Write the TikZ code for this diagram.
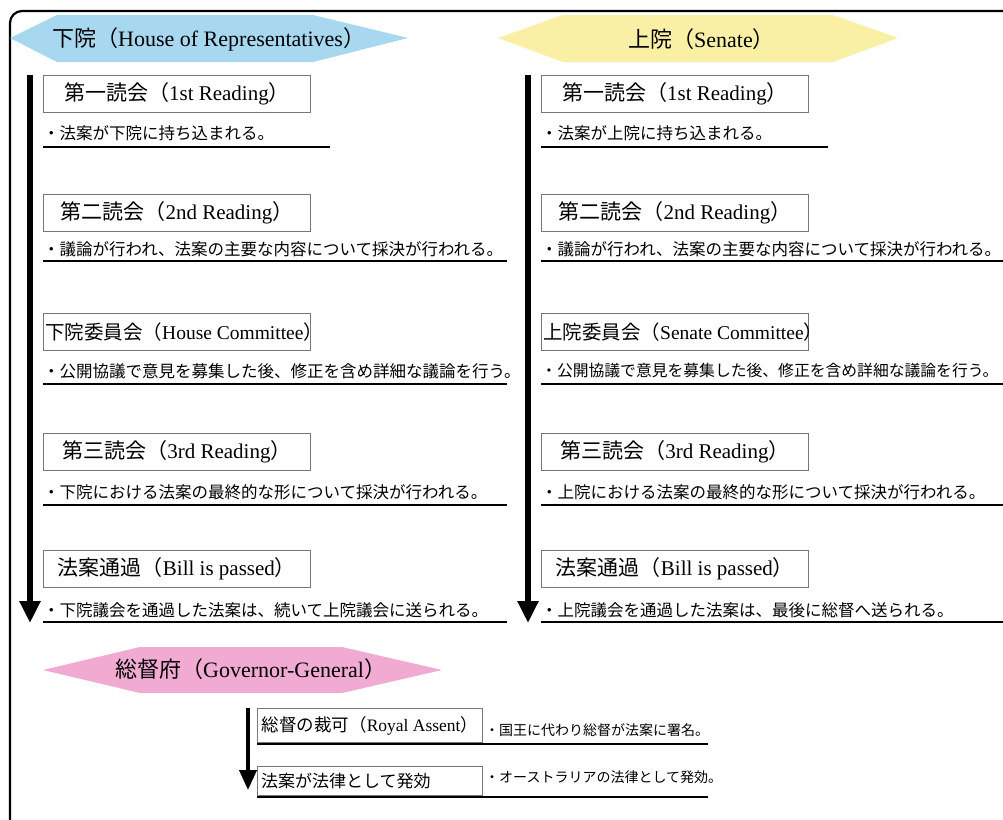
\documentclass[tikz,border=0pt]{standalone}
\usepackage{fontspec}
\setmainfont{Liberation Serif}
\newfontfamily\jpf{Noto Sans CJK JP}
\newcommand\J[1]{{\jpf #1}}
\newcommand\headf{\fontsize{22}{25}\selectfont}
\newcommand\boxf{\fontsize{21}{24}\selectfont}
\newcommand\cboxf{\fontsize{19.5}{22}\selectfont}
\newcommand\subf{\fontsize{16.5}{19}\selectfont\jpf}
\newcommand\gboxf{\fontsize{17.5}{21}\selectfont}
\newcommand\gsubf{\fontsize{14}{17}\selectfont\jpf}
\usetikzlibrary{arrows.meta}
\definecolor{hblue}{RGB}{168,215,240}
\definecolor{hyellow}{RGB}{250,240,165}
\definecolor{hpink}{RGB}{241,171,211}
\definecolor{boxgray}{RGB}{120,120,120}
\begin{document}
\begin{tikzpicture}[x=1pt,y=-1pt,
  stepbox/.style={draw=boxgray, line width=0.9pt, minimum width=267pt, minimum height=37pt, inner sep=0pt, anchor=north west, font=\boxf},
  gbox/.style={draw=boxgray, line width=0.9pt, minimum width=225pt, inner sep=0pt, anchor=north west, font=\gboxf},
  sub/.style={anchor=west, inner sep=0pt, font=\subf},
  gsub/.style={anchor=west, inner sep=0pt, font=\gsubf},
  hdr/.style={anchor=west, inner sep=0pt, font=\headf},
  ctext/.style={anchor=west, inner sep=0pt, font=\cboxf},
  uline/.style={line width=1.6pt, black},
  flow/.style={line width=6pt, -{Triangle[width=20pt,length=22pt]}},
  gflow/.style={line width=4pt, -{Triangle[width=17pt,length=20pt]}}]
\useasboundingbox (0,0) rectangle (1003,819);
\clip (0,0) rectangle (1003,819);
\fill[white] (0,0) rectangle (1003,819);
% frame
\draw[line width=2.2pt, rounded corners=12pt] (10,840) -- (10,11) -- (1020,11);
% headers
\fill[hblue] (10,38) -- (57,15) -- (313,15) -- (408,38) -- (313,62) -- (57,62) -- cycle;
\node[hdr] (hH) at (52,39) {\J{下院（}House of Representatives\J{）}};
\fill[hyellow] (498,38) -- (563,15) -- (833,15) -- (898,38) -- (833,62) -- (563,62) -- cycle;
\node[hdr] (hS) at (628,39) {\J{上院（}Senate\J{）}};
\fill[hpink] (43,670) -- (140,647) -- (342,647) -- (442,670) -- (342,693) -- (140,693) -- cycle;
\node[hdr] (hG) at (115,669) {\J{総督府（}Governor-General\J{）}};
% left column
\coordinate (la0) at (30,75);
\coordinate (la1) at (30,623);
\draw[flow] (la0) -- (la1);
\node[stepbox] (lb1) at (43,75) {\J{第一読会（}1st Reading\J{）}};
\node[sub] (ls1) at (43,133) {・法案が下院に持ち込まれる。};
\draw[uline] (43,147) -- (330,147);
\node[stepbox] (lb2) at (43,194) {\J{第二読会（}2nd Reading\J{）}};
\node[sub] (ls2) at (43,249) {・議論が行われ、法案の主要な内容について採決が行われる。};
\draw[uline] (43,261) -- (507,261);
\node[stepbox] (lb3) at (43,313) {};
\node[ctext] (lt3) at (45,332) {\J{下院委員会（}House Committee\J{）}};
\node[sub] (ls3) at (43,371) {・公開協議で意見を募集した後、修正を含め詳細な議論を行う。};
\draw[uline] (43,384) -- (507,384);
\node[stepbox] (lb4) at (43,433) {\J{第三読会（}3rd Reading\J{）}};
\node[sub] (ls4) at (43,492) {・下院における法案の最終的な形について採決が行われる。};
\draw[uline] (43,505) -- (507,505);
\node[stepbox] (lb5) at (43,550) {\J{法案通過（}Bill is passed\J{）}};
\node[sub] (ls5) at (43,610) {・下院議会を通過した法案は、続いて上院議会に送られる。};
\draw[uline] (43,622) -- (507,622);
% right column
\coordinate (ra0) at (528,75);
\coordinate (ra1) at (528,623);
\draw[flow] (ra0) -- (ra1);
\node[stepbox] (rb1) at (541,75) {\J{第一読会（}1st Reading\J{）}};
\node[sub] (rs1) at (541,133) {・法案が上院に持ち込まれる。};
\draw[uline] (541,147) -- (828,147);
\node[stepbox] (rb2) at (541,194) {\J{第二読会（}2nd Reading\J{）}};
\node[sub] (rs2) at (541,249) {・議論が行われ、法案の主要な内容について採決が行われる。};
\draw[uline] (541,261) -- (1010,261);
\node[stepbox] (rb3) at (541,313) {};
\node[ctext] (rt3) at (543,332) {\J{上院委員会（}Senate Committee\J{）}};
\node[sub, font=\fontsize{15.8}{19}\selectfont\jpf] (rs3) at (541,371) {・公開協議で意見を募集した後、修正を含め詳細な議論を行う。};
\draw[uline] (541,384) -- (1010,384);
\node[stepbox] (rb4) at (541,433) {\J{第三読会（}3rd Reading\J{）}};
\node[sub] (rs4) at (541,492) {・上院における法案の最終的な形について採決が行われる。};
\draw[uline] (541,505) -- (1010,505);
\node[stepbox] (rb5) at (541,550) {\J{法案通過（}Bill is passed\J{）}};
\node[sub] (rs5) at (541,610) {・上院議会を通過した法案は、最後に総督へ送られる。};
\draw[uline] (541,622) -- (1010,622);
% governor-general
\coordinate (ga0) at (248,708);
\coordinate (ga1) at (248,790);
\draw[gflow] (ga0) -- (ga1);
\node[gbox, minimum height=34pt] (gb1) at (257,708) {\J{総督の裁可（}Royal Assent\J{）}};
\node[gsub] (gs1) at (485,730) {・国王に代わり総督が法案に署名。};
\draw[uline] (257,744) -- (708,744);
\node[gbox, minimum height=29pt] (gb2) at (257,766) {};
\node[anchor=west, inner sep=0pt, font=\fontsize{17}{20}\selectfont\jpf] (gt2) at (261,781) {法案が法律として発効};
\node[gsub] (gs2) at (485,777) {・オーストラリアの法律として発効。};
\draw[uline] (257,797) -- (708,797);
\end{tikzpicture}
\end{document}
